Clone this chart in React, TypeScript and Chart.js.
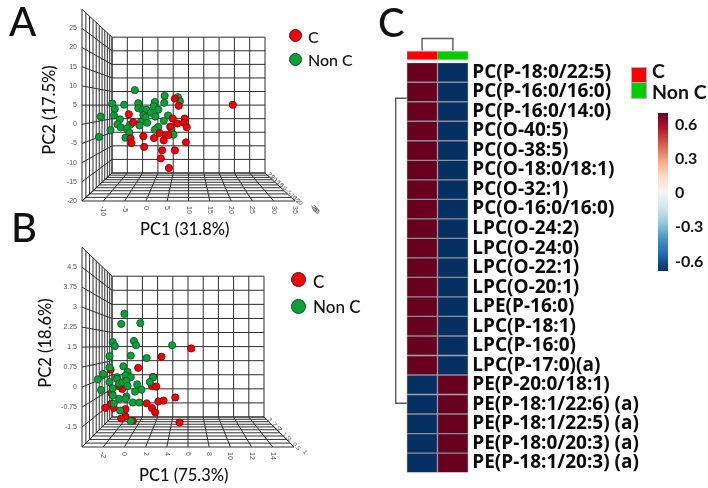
import React, { useEffect, useRef } from "react";
import { Chart, registerables } from "chart.js";

Chart.register(...registerables);

const RED = "#f00008";
const GREEN = "#0ca03a";

// Panel A (PC1 31.8%, PC2 17.5%)
const aRedX = [20.4, 6.8, 7.7, -4.0, -3.0, 6.3, 9.1, 8.9, 7.4, 5.7, 9.6, 3.2, 4.6, 5.3, 1.9, -0.6, 4.2, -3.6, -3.4, 9.4, -0.4, 3.8, 6.8, 3.5, 5.4];
const aRedY = [5.1, 6.7, 4.8, 2.6, 0.5, 1.5, 1.5, 0.4, 0.2, -0.6, -0.8, -2.3, -2.8, -2.8, -3.6, -3.1, -4.2, -3.7, -4.9, -4.7, -5.9, -6.8, -6.8, -8.9, -11.4];
const aGreenX = [-2.6, 4.4, 7.5, 8.0, 4.3, 2.1, -7.9, -5.1, -1.8, -7.3, -1.8, 1.8, -0.8, 0.1, 2.9, 1.2, -0.6, 2.2, -0.1, -7.5, -10.6, 5.2, -6.1, -1.2, 0.3, 4.2, -6.7, -3.7, -5.9, -4.5, -1.5, 2.9, 2.1, -8.3, -3.9, 6.0, 6.5, -4.8, -11.0];
const aGreenY = [8.9, 7.4, 7.1, 6.0, 5.6, 5.8, 5.4, 5.1, 5.5, 4.0, 4.2, 4.7, 3.7, 3.8, 3.8, 3.0, 2.4, 2.0, 1.8, 2.3, 2.0, 2.3, 1.3, 0.6, 0.4, 0.9, 0.0, -0.1, -0.8, -1.1, -0.3, -0.7, -1.4, -1.5, -2.2, -1.2, -2.7, -3.5, -3.3];
const aZTicks = ["25", "20", "15", "10", "5", "0", "-5", "-10", "-15", "-20"];

// Panel B (PC1 75.3%, PC2 18.6%)
const bRedX = [6.3, 3.5, 1.3, -1.3, 2.7, 2.6, 3.0, -0.2, -0.5, -1.2, 4.8, 3.2, 3.7, 2.1, -1.3, -1.8, -1.0, 0.1, 2.6, 2.9, 0.1, -0.3, 0.8, 5.2];
const bRedY = [1.45, 1.14, 0.72, 0.66, 0.38, 0.04, 0.02, -0.07, 0.04, -0.24, -0.39, -0.54, -0.51, -0.61, -0.64, -0.78, -0.78, -0.83, -0.79, -0.95, -1.11, -1.18, -1.27, -1.33];
const bGreenX = [0.0, -0.3, 1.5, -1.1, -0.9, 0.9, 1.1, 4.5, -1.4, 0.6, 2.1, -0.1, -1.4, -2.0, -2.5, 0.3, -0.7, 0.1, 0.6, 2.7, -1.4, -0.7, -0.5, -0.2, 0.2, 2.4, 1.2, 0.3, -1.1, -2.2, 1.6, 1.0, -1.1, 0.2, -0.5, 0.1, 0.8, 1.4, -1.0, -0.4, 0.6];
const bGreenY = [2.75, 2.37, 2.4, 1.69, 1.54, 1.73, 1.57, 1.57, 1.16, 1.18, 1.09, 0.78, 0.74, 0.49, 0.29, 0.57, 0.37, 0.43, 0.37, 0.36, 0.19, 0.31, 0.13, 0.18, 0.23, 0.19, 0.1, 0.04, -0.05, -0.11, -0.1, -0.17, -0.31, -0.36, -0.44, -0.44, -0.58, -0.58, -0.62, -0.88, -1.28];
const bZTicks = ["3", "2.5", "2", "1.5", "1", "0.5"];

// Panel C heat map
const rowLabels = [
  "PC(P-18:0/22:5)", "PC(P-16:0/16:0)", "PC(P-16:0/14:0)", "PC(O-40:5)", "PC(O-38:5)",
  "PC(O-18:0/18:1)", "PC(O-32:1)", "PC(O-16:0/16:0)", "LPC(O-24:2)", "LPC(O-24:0)",
  "LPC(O-22:1)", "LPC(O-20:1)", "LPE(P-16:0)", "LPC(P-18:1)", "LPC(P-16:0)",
  "LPC(P-17:0)(a)", "PE(P-20:0/18:1)", "PE(P-18:1/22:6) (a)", "PE(P-18:1/22:5) (a)",
  "PE(P-18:0/20:3) (a)", "PE(P-18:1/20:3) (a)",
];
const cellC = [0.7, 0.7, 0.7, 0.7, 0.7, 0.7, 0.7, 0.7, 0.7, 0.7, 0.7, 0.7, 0.7, 0.7, 0.7, 0.7, -0.7, -0.7, -0.7, -0.7, -0.7];
const cellNonC = [-0.7, -0.7, -0.7, -0.7, -0.7, -0.7, -0.7, -0.7, -0.7, -0.7, -0.7, -0.7, -0.7, -0.7, -0.7, -0.7, 0.7, 0.7, 0.7, 0.7, 0.7];
const colorbarTicks = ["0.6", "0.3", "0", "-0.3", "-0.6"];
const palette = ["#053061", "#2166ac", "#4393c3", "#92c5de", "#d1e5f0", "#f5f5f5", "#fddbc7", "#f4a582", "#d6604d", "#b2182b", "#67001f"];

function colorFor(v: number) {
  const t = Math.max(0, Math.min(1, (v + 0.7) / 1.4));
  return palette[Math.round(t * (palette.length - 1))];
}

const wallPlugin = {
  id: "wall",
  beforeDatasetsDraw(chart: any, _a: any, o: any) {
    const { ctx, chartArea: c, scales } = chart;
    const ix = o.insetX, itop = o.insetTop, ibot = o.insetBottom, n = 10;
    const f = (i: number) => {
      const z = i / n, k = 0.35;
      return (1 - 1 / (1 + k * z)) / (1 - 1 / (1 + k));
    };
    ctx.save();
    ctx.strokeStyle = "#2e2e2e";
    ctx.lineWidth = 1;
    const line = (a: number, b: number, p: number, q: number) => {
      ctx.beginPath(); ctx.moveTo(a, b); ctx.lineTo(p, q); ctx.stroke();
    };
    const bx = (px: number) => c.left + ix + ((px - c.left) / c.width) * (c.width - 2 * ix);
    const by = (py: number) => c.top + itop + ((py - c.top) / c.height) * (c.height - itop - ibot);
    const xt = scales.x.ticks.map((_: any, i: number) => scales.x.getPixelForTick(i));
    const yt = scales.y.ticks.map((_: any, i: number) => scales.y.getPixelForTick(i));
    // back wall
    xt.forEach((p: number) => line(bx(p), by(c.top), bx(p), by(c.bottom)));
    yt.forEach((p: number) => line(bx(c.left), by(p), bx(c.right), by(p)));
    // left wall
    yt.forEach((p: number) => line(c.left, p, bx(c.left), by(p)));
    // floor rails
    xt.forEach((p: number) => line(p, c.bottom, bx(p), by(c.bottom)));
    for (let i = 0; i <= n; i++) {
      const t = f(i);
      const lx = c.left + ix * t;
      const rx = c.right - ix * t;
      const top = c.top + itop * t;
      const bot = c.bottom - ibot * t;
      line(lx, top, lx, bot);
      line(lx, bot, rx, bot);
    }
    // depth labels
    ctx.fillStyle = "#555";
    ctx.font = "6px 'Liberation Sans'";
    ctx.textAlign = "left";
    ctx.textBaseline = "middle";
    const zt: string[] = o.zTicks;
    zt.forEach((lab, i) => {
      const t = 1 - (i + 0.5) / zt.length;
      ctx.save();
      ctx.translate(c.right - ix * t + 2, c.bottom - ibot * t - 1);
      ctx.rotate(Math.PI / 4);
      ctx.fillText(lab, 0, 0);
      ctx.restore();
    });
    (o.farTicks as string[]).forEach((lab, i) => {
      ctx.save();
      ctx.translate(c.right + o.farX + i * 0.8, c.bottom + o.farY + i * 1.2);
      ctx.rotate(Math.PI / 4);
      ctx.fillText(lab, 0, 0);
      ctx.restore();
    });
    // x tick labels, turned clockwise as in the reference
    ctx.font = "7px 'Liberation Sans'";
    ctx.fillStyle = "#555";
    scales.x.ticks.forEach((t: any, i: number) => {
      if (t.label === "") return;
      ctx.save();
      ctx.translate(scales.x.getPixelForTick(i), c.bottom + 5);
      ctx.rotate(Math.PI / 2);
      ctx.fillText(String(t.label), 0, 0);
      ctx.restore();
    });
    ctx.restore();
  },
};

const heatExtras = {
  id: "heatExtras",
  afterDatasetsDraw(chart: any) {
    const { ctx, chartArea: c } = chart;
    const mid = (c.left + c.right) / 2;
    const annTop = c.top - 12.2;
    ctx.save();
    // column annotation
    ctx.fillStyle = "#e9d5df";
    ctx.fillRect(c.left, annTop, c.width, 10);
    ctx.fillStyle = "#ff0000";
    ctx.fillRect(c.left + 0.5, annTop + 1, mid - c.left - 0.5, 8);
    ctx.fillStyle = "#00cc00";
    ctx.fillRect(mid + 0.5, annTop + 1, c.right - mid - 1, 8);
    // dendrograms
    ctx.strokeStyle = "#5a5a5a";
    ctx.lineWidth = 1.4;
    const q1 = c.left + c.width / 4, q3 = c.left + (3 * c.width) / 4;
    ctx.beginPath();
    ctx.moveTo(q1, annTop); ctx.lineTo(q1, annTop - 12); ctx.lineTo(q3, annTop - 12); ctx.lineTo(q3, annTop);
    ctx.stroke();
    const rowH = c.height / rowLabels.length;
    const y1 = c.top + rowH * 1.82, y2 = c.top + rowH * 17.45;
    ctx.beginPath();
    ctx.moveTo(c.left, y1); ctx.lineTo(c.left - 11, y1); ctx.lineTo(c.left - 11, y2); ctx.lineTo(c.left, y2);
    ctx.stroke();
    ctx.restore();
  },
};

type ScatterProps = {
  left: number; top: number; width: number; height: number;
  area: { left: number; top: number; right: number; bottom: number };
  redX: number[]; redY: number[]; greenX: number[]; greenY: number[];
  xMin: number; xMax: number; xStep: number; yMin: number; yMax: number; yStep: number;
  xHide: number[]; yHide: number[];
  zTicks: string[]; farTicks: string[]; farX: number; farY: number;
  insetTop: number; insetBottom: number; radius: number; greenOnTop: boolean;
};

function Scatter3D(p: ScatterProps) {
  const ref = useRef<HTMLCanvasElement>(null);
  useEffect(() => {
    const near = (a: number, list: number[]) => list.some((b) => Math.abs(a - b) < 1e-6);
    const chart = new Chart(ref.current!, {
      type: "scatter",
      plugins: [wallPlugin],
      data: {
        datasets: [
          { label: "Non C", order: p.greenOnTop ? 1 : 2, data: p.greenX.map((x, i) => ({ x, y: p.greenY[i] })), backgroundColor: GREEN, borderColor: "#0a4f1f", borderWidth: 0.8, pointRadius: p.radius },
          { label: "C", order: p.greenOnTop ? 2 : 1, data: p.redX.map((x, i) => ({ x, y: p.redY[i] })), backgroundColor: RED, borderColor: "#7a0005", borderWidth: 0.8, pointRadius: p.radius },
        ],
      },
      options: {
        responsive: false,
        animation: false,
        layout: {
          autoPadding: false,
          padding: { left: 0, top: p.area.top - p.top, right: p.left + p.width - p.area.right, bottom: 0 },
        },
        plugins: {
          legend: { display: false },
          tooltip: { enabled: false },
          wall: { insetX: 30, insetTop: p.insetTop, insetBottom: p.insetBottom, zTicks: p.zTicks, farTicks: p.farTicks, farX: p.farX, farY: p.farY },
        } as any,
        scales: {
          x: {
            type: "linear", min: p.xMin, max: p.xMax,
            grid: { display: false, drawTicks: false }, border: { display: false },
            afterFit: (s: any) => { s.height = p.top + p.height - p.area.bottom; },
            ticks: { display: false, stepSize: p.xStep, callback: (v: any) => (near(+v, p.xHide) ? "" : String(v)) },
          },
          y: {
            type: "linear", min: p.yMin, max: p.yMax,
            grid: { display: false, drawTicks: false }, border: { display: false },
            afterFit: (s: any) => { s.width = p.area.left - p.left; },
            ticks: {
              stepSize: p.yStep, padding: 5, color: "#555", autoSkip: false,
              font: { family: "'Liberation Sans'", size: 7 },
              callback: (v: any) => (near(+v, p.yHide) ? "" : String(+(+v).toFixed(2))),
            },
          },
        },
      } as any,
    });
    return () => chart.destroy();
  }, []);
  return <canvas ref={ref} width={p.width} height={p.height} style={{ position: "absolute", left: p.left, top: p.top, width: p.width, height: p.height }} />;
}

function Heatmap() {
  const ref = useRef<HTMLCanvasElement>(null);
  useEffect(() => {
    const shared = { borderColor: "#8d8d97", borderWidth: 1, borderSkipped: false, barPercentage: 1, categoryPercentage: 1 };
    const chart = new Chart(ref.current!, {
      type: "bar",
      plugins: [heatExtras],
      data: {
        labels: rowLabels,
        datasets: [
          { label: "C", data: cellC.map(() => 1), backgroundColor: cellC.map(colorFor), ...shared },
          { label: "Non C", data: cellNonC.map(() => 1), backgroundColor: cellNonC.map(colorFor), ...shared },
        ],
      },
      options: {
        indexAxis: "y",
        responsive: false,
        animation: false,
        layout: { autoPadding: false, padding: { left: 16.7, top: 32.7, bottom: 10.7, right: 0 } },
        plugins: { legend: { display: false }, tooltip: { enabled: false } },
        scales: {
          x: { display: false, stacked: true, min: 0, max: 2 },
          y: {
            position: "right", stacked: true,
            grid: { display: false, drawTicks: false }, border: { display: false },
            afterFit: (s: any) => { s.width = 239.7; },
            ticks: { autoSkip: false, padding: 4, color: "#0a0a0a", font: { family: "'Open Sans'", size: 19, weight: "bold" } },
          },
        },
      } as any,
    });
    return () => chart.destroy();
  }, []);
  return <canvas ref={ref} width={318} height={458} style={{ position: "absolute", left: 390, top: 30, width: 318, height: 458 }} />;
}

const Txt = ({ x, y, size, children, weight, rot }: any) => (
  <div
    style={{
      position: "absolute", left: x, top: y, fontFamily: "Lato", fontSize: size, fontWeight: weight || 500,
      lineHeight: 1, color: "#111", whiteSpace: "nowrap",
      transform: rot ? "translate(-50%,-50%) rotate(-90deg)" : "translateY(-50%)",
    }}
  >
    {children}
  </div>
);

const Dot = ({ x, y, r, color, edge }: any) => (
  <div style={{ position: "absolute", left: x - r, top: y - r, width: 2 * r, height: 2 * r, borderRadius: "50%", background: color, border: `1px solid ${edge}`, boxSizing: "border-box" }} />
);

export default function App() {
  return (
    <div style={{ position: "absolute", left: 0, top: 0, width: 708, height: 488, overflow: "hidden", background: "#fff", filter: "blur(0.35px)" }}>
      <Scatter3D
        left={0} top={0} width={340} height={235}
        area={{ left: 82, top: 2, right: 295, bottom: 201 }}
        redX={aRedX} redY={aRedY} greenX={aGreenX} greenY={aGreenY}
        xMin={-15} xMax={35} xStep={5} yMin={-20} yMax={30} yStep={5}
        xHide={[-15]} yHide={[30]} zTicks={aZTicks} farTicks={["-25", "-30", "-35"]} farX={16} farY={4}
        insetTop={28} insetBottom={28} radius={3.6} greenOnTop={false}
      />
      <Scatter3D
        left={0} top={238} width={340} height={250}
        area={{ left: 82, top: 241, right: 294, bottom: 447 }}
        redX={bRedX} redY={bRedY} greenX={bGreenX} greenY={bGreenY}
        xMin={-4} xMax={16} xStep={2} yMin={-2.25} yMax={5.25} yStep={0.75}
        xHide={[-4, 16]} yHide={[-2.25, 5.25]} zTicks={bZTicks} farTicks={["1"]} farX={10} farY={4}
        insetTop={29} insetBottom={30} radius={3.6} greenOnTop={true}
      />
      <Heatmap />

      <Txt x={9} y={21} size={40}>A</Txt>
      <Txt x={11} y={227} size={40}>B</Txt>
      <Txt x={378} y={22} size={40}>C</Txt>

      <Txt x={49} y={110} size={16.5} rot>PC2 (17.5%)</Txt>
      <Txt x={140} y={229} size={16.5}>PC1 (31.8%)</Txt>
      <Txt x={45} y={343} size={16.5} rot>PC2 (18.6%)</Txt>
      <Txt x={139} y={475} size={16.5}>PC1 (75.3%)</Txt>

      <Dot x={295} y={35} r={6.5} color={RED} edge="#5a1010" />
      <Txt x={308} y={37} size={16}>C</Txt>
      <Dot x={295} y={59} r={6.5} color={GREEN} edge="#0c4a20" />
      <Txt x={308} y={60} size={16}>Non C</Txt>

      <Dot x={298} y={279} r={7.5} color={RED} edge="#5a1010" />
      <Txt x={313} y={281} size={17}>C</Txt>
      <Dot x={298} y={306} r={7.5} color={GREEN} edge="#0c4a20" />
      <Txt x={313} y={306} size={17}>Non C</Txt>

      <div style={{ position: "absolute", left: 630.5, top: 67, width: 16, height: 32, background: "#b5b0b8" }} />
      <div style={{ position: "absolute", left: 631.5, top: 68, width: 14, height: 14, background: "#ff0000" }} />
      <div style={{ position: "absolute", left: 631.5, top: 83, width: 14, height: 15, background: "#00cc00" }} />
      <Txt x={652} y={71} size={19.5} weight={700}>C</Txt>
      <Txt x={652} y={92} size={19.5} weight={700}>Non C</Txt>

      <div style={{ position: "absolute", left: 658, top: 113, width: 10, height: 158, background: `linear-gradient(to top, ${palette.join(",")})` }} />
      {colorbarTicks.map((t, i) => (
        <Txt key={t} x={675} y={123.5 + i * 34.3} size={16} weight={700}>{t}</Txt>
      ))}
    </div>
  );
}
